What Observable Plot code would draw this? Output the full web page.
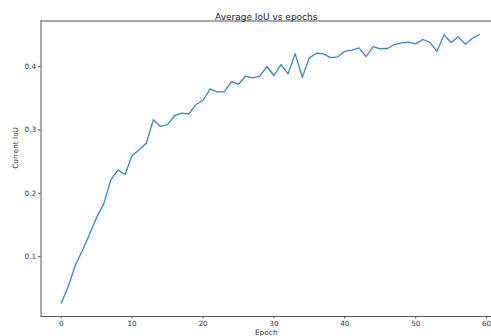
<!DOCTYPE html>
<html>
<head>
<meta charset="utf-8">
<script src="https://cdn.jsdelivr.net/npm/d3@7"></script>
<script src="https://cdn.jsdelivr.net/npm/@observablehq/plot@0.6"></script>
<style>
  html, body { margin: 0; padding: 0; background: #fff; }
  #chart svg { display: block; }
</style>
</head>
<body>
<div id="chart"></div>
<script>
const epochs = [0,1,2,3,4,5,6,7,8,9,10,11,12,13,14,15,16,17,18,19,20,21,22,23,24,25,26,27,28,29,30,31,32,33,34,35,36,37,38,39,40,41,42,43,44,45,46,47,48,49,50,51,52,53,54,55,56,57,58,59];
const iou = [0.0267,0.053,0.087,0.110,0.136,0.162,0.1834,0.2213,0.237,0.2297,
             0.2596,0.2686,0.279,0.316,0.3054,0.3085,0.3227,0.3264,0.325,0.340,
             0.3464,0.3648,0.360,0.360,0.3763,0.372,0.3847,0.382,0.3847,0.400,
             0.3858,0.403,0.3884,0.420,0.383,0.4137,0.421,0.420,0.414,0.4153,
             0.424,0.4257,0.4295,0.4158,0.4315,0.428,0.4284,0.4347,0.4374,0.4383,
             0.4358,0.4426,0.4383,0.424,0.450,0.4379,0.4468,0.4352,0.4446,0.4505];
const xTicks = [0,10,20,30,40,50,60];
const yTicks = [0.1,0.2,0.3,0.4];
const titleText = "Average IoU vs epochs";
const xLabel = "Epoch";
const yLabel = "Current IoU";

const data = epochs.map((e, i) => ({epoch: e, iou: iou[i]}));
const xDomain = [-2.85, 60.69];
const yDomain = [0.0057, 0.4718];
const spine = "#555";

const chart = Plot.plot({
  width: 491,
  height: 336,
  marginLeft: 40.5,
  marginRight: 0,
  marginTop: 20.5,
  marginBottom: 20,
  style: {fontFamily: "DejaVu Sans", fontSize: "7.3px", color: "#333", background: "#fff"},
  x: {domain: xDomain},
  y: {domain: yDomain},
  marks: [
    Plot.axisX({ticks: xTicks, tickSize: 2.6, tickPadding: 1.8, stroke: spine, tickFormat: d3.format("d"),
                label: null, fontSize: 7.2}),
    Plot.axisY({ticks: yTicks, tickSize: 2.6, tickPadding: 2.2, stroke: spine, tickFormat: d3.format(".1f"),
                label: null}),
    Plot.ruleY([yDomain[0]], {stroke: spine, strokeWidth: 1}),
    Plot.ruleY([yDomain[1]], {stroke: spine, strokeWidth: 1}),
    Plot.ruleX([xDomain[0]], {stroke: spine, strokeWidth: 1}),
    Plot.lineY(data, {x: "epoch", y: "iou", stroke: "#3a87c2", strokeWidth: 1.3}),
    Plot.text([titleText], {frameAnchor: "top", dy: -7, fontSize: 9, fill: "#222"}),
    Plot.text([xLabel], {frameAnchor: "bottom", dy: 18.3, fontSize: 7.4, fill: "#333"}),
    Plot.text([yLabel], {frameAnchor: "left", dx: -25.5, rotate: -90, fontSize: 7.3, fill: "#333"})
  ]
});
document.getElementById("chart").appendChild(chart);
</script>
</body>
</html>
